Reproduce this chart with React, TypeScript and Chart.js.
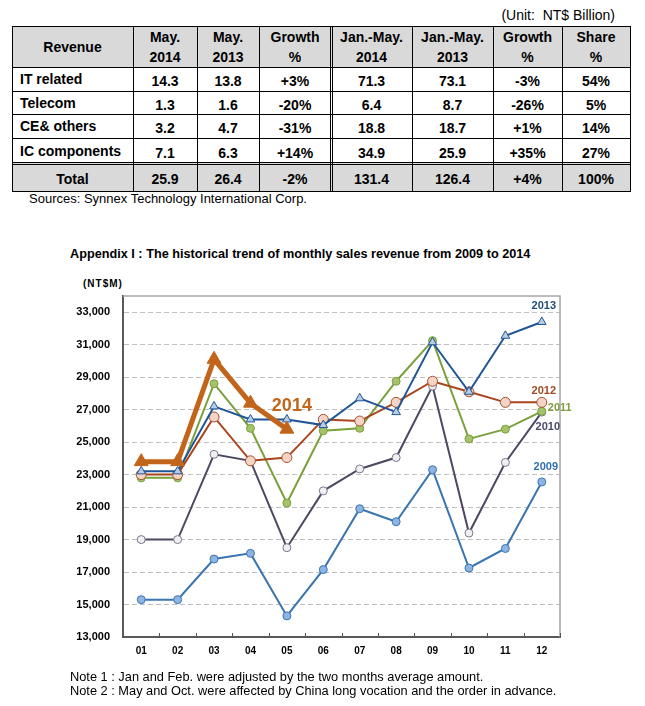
import React, { useEffect, useRef } from 'react';
import { Chart, registerables } from 'chart.js';

Chart.register(...registerables);

// ---------- table data ----------
const tableHead = [['Revenue'], ['May.', '2014'], ['May.', '2013'], ['Growth', '%'], ['Jan.-May.', '2014'], ['Jan.-May.', '2013'], ['Growth', '%'], ['Share', '%']];
const segments = ['IT related', 'Telecom', 'CE& others', 'IC components'];
const may2014 = ['14.3', '1.3', '3.2', '7.1'];
const may2013 = ['13.8', '1.6', '4.7', '6.3'];
const mayGrowth = ['+3%', '-20%', '-31%', '+14%'];
const ytd2014 = ['71.3', '6.4', '18.8', '34.9'];
const ytd2013 = ['73.1', '8.7', '18.7', '25.9'];
const ytdGrowth = ['-3%', '-26%', '+1%', '+35%'];
const shares = ['54%', '5%', '14%', '27%'];
const totals = ['Total', '25.9', '26.4', '-2%', '131.4', '126.4', '+4%', '100%'];

// ---------- chart data ----------
const months = ['01', '02', '03', '04', '05', '06', '07', '08', '09', '10', '11', '12'];
const s2014 = [23800, 23800, 30100, 27400, 25800];
const s2013 = [23200, 23200, 27200, 26400, 26400, 26050, 27700, 26850, 31150, 28100, 31550, 32400];
const s2012 = [23000, 23000, 26550, 23850, 24050, 26400, 26300, 27450, 28750, 28100, 27450, 27450];
const s2011 = [22800, 22800, 28600, 25850, 21250, 25700, 25850, 28750, 31250, 25200, 25800, 26900];
const s2010 = [19000, 19000, 24250, 23850, 18500, 22000, 23350, 24050, 28450, 19400, 23750, 26850];
const s2009 = [15300, 15300, 17800, 18150, 14300, 17150, 20900, 20100, 23300, 17250, 18450, 22550];
const yTickValues = [13000, 15000, 17000, 19000, 21000, 23000, 25000, 27000, 29000, 31000, 33000];

const FONT = "'Liberation Sans', Arial, sans-serif";

// table layout
const COLS = [12, 133, 197, 259, 331, 412, 493, 562, 630];
const ROWS = [26, 67, 91, 114, 138, 163, 191];
const GRAY = '#d9d9d9';

const labelPlugin = {
  id: 'seriesLabels',
  afterDatasetsDraw(chart: any) {
    const ctx = chart.ctx;
    chart.data.datasets.forEach((ds: any, i: number) => {
      const meta = chart.getDatasetMeta(i);
      const pt = meta.data[meta.data.length - 1];
      if (!pt || !ds.tag) return;
      ctx.save();
      ctx.font = ds.tag.font;
      ctx.fillStyle = ds.tag.color;
      ctx.textAlign = 'center';
      ctx.textBaseline = 'middle';
      ctx.fillText(ds.label, pt.x + ds.tag.dx, pt.y + ds.tag.dy);
      ctx.restore();
    });
  },
};

const framePlugin = {
  id: 'frame',
  beforeDatasetsDraw(chart: any) {
    const { ctx, chartArea } = chart;
    const { left, right, top, bottom } = chartArea;
    const x = chart.scales.x;
    ctx.save();
    ctx.strokeStyle = '#a6a6a6';
    ctx.lineWidth = 1.5;
    ctx.beginPath();
    ctx.moveTo(left, top);
    ctx.lineTo(right, top);
    ctx.lineTo(right, bottom);
    ctx.stroke();
    ctx.strokeStyle = '#555';
    ctx.lineWidth = 1;
    for (let i = 0; i <= months.length; i++) {
      const px = Math.round(x.getPixelForValue(i - 0.5)) + 0.5;
      ctx.beginPath();
      ctx.moveTo(px, bottom);
      ctx.lineTo(px, bottom - 4);
      ctx.stroke();
    }
    ctx.restore();
  },
};

function LineChart() {
  const ref = useRef<HTMLCanvasElement | null>(null);
  useEffect(() => {
    if (!ref.current) return;
    const mk = (label: string, data: number[], line: string, fill: string, border: string, style: string, r: number, w: number, tag: any) => ({
      label, data, borderColor: line, borderWidth: w, backgroundColor: fill,
      pointBackgroundColor: fill, pointBorderColor: border, pointBorderWidth: 1,
      pointStyle: style, pointRadius: r, tension: 0, fill: false, tag,
    });
    const chart = new Chart(ref.current, {
      type: 'line',
      data: {
        labels: months,
        datasets: [
          mk('2014', s2014, '#c2651a', '#c2651a', '#c2651a', 'triangle', 8, 5, { font: `bold 18px ${FONT}`, color: '#c2651a', dx: 5, dy: -23 }),
          mk('2013', s2013, '#1f5597', '#b8cce4', '#1f5597', 'triangle', 5, 2, { font: `bold 11px ${FONT}`, color: '#1f4e79', dx: 2, dy: -16 }),
          mk('2012', s2012, '#a9441c', '#f5d3c5', '#a0522d', 'circle', 5, 2, { font: `bold 11px ${FONT}`, color: '#9b4a22', dx: 2, dy: -11 }),
          mk('2011', s2011, '#7aa03c', '#a4c36a', '#7a9f3a', 'circle', 4, 2, { font: `bold 11px ${FONT}`, color: '#7f9f3f', dx: 18, dy: -3 }),
          mk('2010', s2010, '#4e4862', '#f0f0f0', '#7a7590', 'circle', 4, 2, { font: `bold 11px ${FONT}`, color: '#4b4a6a', dx: 6, dy: 15 }),
          mk('2009', s2009, '#3a75b0', '#8eb4e3', '#3a75b0', 'circle', 4, 2, { font: `bold 11px ${FONT}`, color: '#2f6fae', dx: 4, dy: -15 }),
        ] as any,
      },
      options: {
        responsive: false,
        animation: false,
        layout: { padding: { top: 26, right: 85, bottom: 0, left: 0 } },
        plugins: { legend: { display: false }, tooltip: { enabled: false }, title: { display: false } },
        scales: {
          x: {
            offset: true,
            grid: { display: false, drawTicks: false },
            border: { display: true, color: '#595959', width: 2 },
            ticks: { padding: 8, color: '#000', font: { family: FONT, weight: 'bold', size: 10 } },
            afterFit: (s: any) => { s.height = 33; },
          },
          y: {
            min: 13000,
            max: 34000,
            grid: { color: '#bfbfbf', lineWidth: 1, drawTicks: false },
            border: { display: true, color: '#595959', width: 2, dash: [5, 3] },
            ticks: {
              padding: 13, color: '#000', font: { family: FONT, weight: 'bold', size: 11 },
              callback: (v: any) => Number(v).toLocaleString('en-US'),
            },
            afterBuildTicks: (axis: any) => { axis.ticks = yTickValues.map((v) => ({ value: v })); },
            afterFit: (s: any) => { s.width = 123; },
          },
        },
      } as any,
      plugins: [framePlugin, labelPlugin],
    });
    return () => chart.destroy();
  }, []);
  return <canvas ref={ref} width={645} height={400} style={{ position: 'absolute', left: 0, top: 270, width: 645, height: 400 }} />;
}

function Txt(props: { left?: number; right?: number; top: number; size: number; bold?: boolean; children: any; extra?: any }) {
  return (
    <div style={{ position: 'absolute', left: props.left, right: props.right, top: props.top, fontFamily: FONT, fontSize: props.size, fontWeight: props.bold ? 'bold' : 'normal', whiteSpace: 'nowrap', color: '#000', lineHeight: 1.15, ...(props.extra || {}) }}>
      {props.children}
    </div>
  );
}

function Table() {
  const bodyRows = segments.map((s, i) => [s, may2014[i], may2013[i], mayGrowth[i], ytd2014[i], ytd2013[i], ytdGrowth[i], shares[i]]);
  const allRows: string[][][] = [tableHead, ...bodyRows.map((r) => r.map((c) => [c])), totals.map((c) => [c])];
  const cells: any[] = [];
  allRows.forEach((row, r) => {
    row.forEach((lines, c) => {
      const left = COLS[c];
      const top = ROWS[r];
      const w = COLS[c + 1] - left;
      const h = ROWS[r + 1] - top;
      const isLabel = c === 0 && r > 0 && r < allRows.length - 1;
      const isHead = r === 0;
      const bg = r === 0 || r === allRows.length - 1 ? GRAY : '#fff';
      cells.push(
        <div key={`${r}-${c}`} style={{
          position: 'absolute', left, top, width: w, height: h, background: bg, boxSizing: 'border-box',
          display: 'flex', flexDirection: 'column', justifyContent: 'center',
          alignItems: isLabel ? 'flex-start' : 'center',
          paddingLeft: isLabel ? 8 : 0,
          paddingTop: isHead ? 1 : (isLabel ? 0 : 4),
          fontFamily: FONT, fontWeight: 'bold', fontSize: 14, lineHeight: isHead ? '20px' : '16px', color: '#000', whiteSpace: 'nowrap',
        }}>
          {lines.map((t, k) => <div key={k}>{t}</div>)}
        </div>
      );
    });
  });
  const lines: any[] = [];
  const top = ROWS[0];
  const bottom = ROWS[ROWS.length - 1];
  COLS.forEach((x, i) => {
    const xs = i === 4 ? [x - 1, x + 1] : [x];
    xs.forEach((xx, k) => lines.push(<div key={`v${i}-${k}`} style={{ position: 'absolute', left: xx, top, width: 1, height: bottom - top + 1, background: '#000' }} />));
  });
  ROWS.forEach((y, i) => {
    const ys = i === 5 ? [y - 1, y + 1] : [y];
    ys.forEach((yy, k) => lines.push(<div key={`h${i}-${k}`} style={{ position: 'absolute', left: COLS[0], top: yy, width: COLS[COLS.length - 1] - COLS[0] + 1, height: 1, background: '#000' }} />));
  });
  return <>{cells}{lines}</>;
}

export default function App() {
  return (
    <div style={{ position: 'absolute', left: 0, top: 0, width: 645, height: 706, background: '#fff', overflow: 'hidden' }}>
      <Txt right={30} top={7} size={14}>(Unit:&nbsp; NT$ Billion)</Txt>
      <Table />
      <Txt left={29} top={192} size={13}>Sources: Synnex Technology International Corp.</Txt>
      <Txt left={70} top={247} size={12.7} bold>Appendix I : The historical trend of monthly sales revenue from 2009 to 2014</Txt>
      <Txt left={83} top={278} size={10} bold extra={{ letterSpacing: 1 }}>(NT$M)</Txt>
      <LineChart />
      <Txt left={70} top={670} size={12.8}>Note 1 : Jan and Feb. were adjusted by the two months average amount.</Txt>
      <Txt left={70} top={684} size={12.8}>Note 2 : May and Oct. were affected by China long vocation and the order in advance.</Txt>
    </div>
  );
}
